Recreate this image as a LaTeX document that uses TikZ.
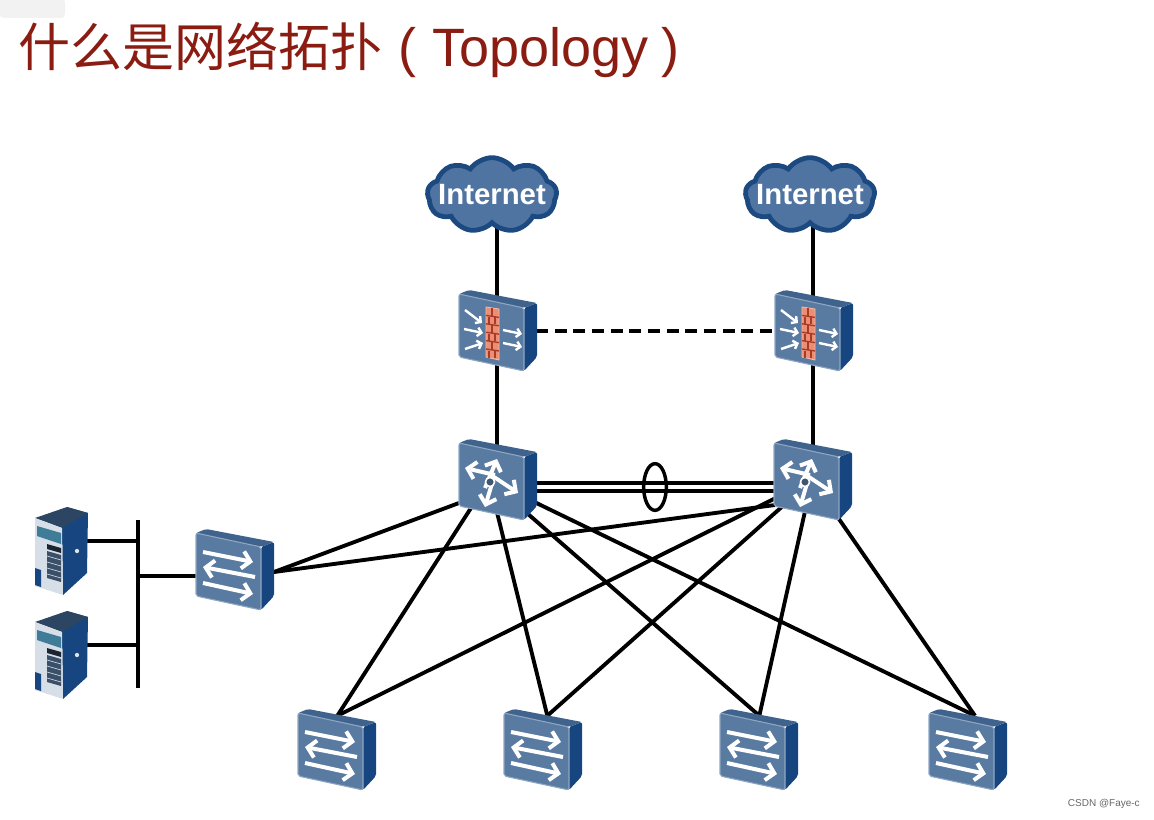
\documentclass[tikz,border=0pt]{standalone}
\usepackage{fontspec}
\setmainfont{Liberation Sans}
\newfontfamily\cjk{Noto Sans CJK SC}
\usetikzlibrary{calc,positioning,backgrounds,arrows.meta,shapes.symbols,shapes.geometric}
\definecolor{ttlred}{HTML}{8A1C12}
\definecolor{facecol}{HTML}{5A7BA1}
\definecolor{topcol}{HTML}{3F638C}
\definecolor{sidecol}{HTML}{17457F}
\definecolor{edgecol}{HTML}{8FA6C2}
\definecolor{cloudcol}{HTML}{1C4A80}
\definecolor{cloudfill}{HTML}{4F74A2}
\definecolor{wallcol}{HTML}{EC8E74}
\definecolor{brickcol}{HTML}{A83A26}
\tikzset{
  devbox/.style={minimum width=58pt, minimum height=51pt, inner sep=0pt},
  srvbox/.style={minimum width=40pt, minimum height=60pt, inner sep=0pt},
  link/.style={draw=black, line width=2.9pt},
  glyph/.style={draw=white, line width=3pt, -{Straight Barb[length=6pt,width=13pt]}},
  smallglyph/.style={draw=white, line width=1.8pt, -{Straight Barb[length=3pt,width=6.5pt]}},
  cloudbody/.style={cloud, cloud puffs=9, cloud puff arc=110, aspect=1.8, draw=cloudcol, line width=3.6pt,
    fill=cloudfill, minimum width=97pt, minimum height=56pt, inner sep=0pt},
  cloudlbl/.style={font=\bfseries\fontsize{22}{22}\selectfont, text=white, inner sep=0pt},
}
\newcommand{\DevFrame}{%
  \fill[sidecol, rounded corners=1.5pt] (27,-23) -- (40,-28) -- (40,26) -- (27,40) -- cycle;
  \fill[topcol, rounded corners=1.5pt] (-38,-37) -- (-28,-41) -- (40,-28) -- (27,-23) -- cycle;
  \draw[edgecol, line width=0.8pt, fill=facecol, rounded corners=1.5pt] (-38,-37) -- (27,-23) -- (27,40) -- (-38,26) -- cycle;
}
\newcommand{\ServerBody}{%
  \fill[sidecol] (1,-13) -- (6,-34) -- (27,-28) -- (26,32) -- (2,54) -- cycle;
  \fill[topcol!70!black] (-26,-23) -- (6,-34) -- (27,-28) -- (1,-13) -- cycle;
  \fill[facecol!25!white] (-26,-23) -- (1,-13) -- (2,54) -- (-26,45) -- cycle;
  \fill[facecol!70!teal] (-24,-15) -- (0,-8) -- (0,3) -- (-24,-5) -- cycle;
  \fill[black!70!facecol] (-14,3) -- (0,7) -- (0,12) -- (-14,8) -- cycle;
  \fill[facecol!65!black] (-14,10) -- (0,14) -- (0,41) -- (-14,37) -- cycle;
  \foreach \k in {0,1,2,3} {
    \draw[white!70!facecol, line width=0.5pt] (-14,{15+6*\k}) -- (0,{19+6*\k});
  }
  \fill[sidecol] (-26,27) -- (-20,29) -- (-20,46) -- (-26,44) -- cycle;
  \fill[white!80!facecol] (16,10) circle (1.6pt);
}
\begin{document}
\begin{tikzpicture}[x=0.75pt, y=-0.75pt]
  \useasboundingbox (0,0) rectangle (1154,820);
  \fill[black!5, rounded corners=3pt] (0,-2) rectangle (65,18);

  % title
  \node[anchor=west, inner sep=0pt, text=ttlred, font=\fontsize{39}{39}\selectfont] (title) at (18,50)
    {{\cjk 什么是网络拓扑}\hspace{12pt}{\fontsize{40.5}{40.5}\selectfont (\hspace{1pt} Topology\hspace{-2pt} )}};
  \node[anchor=east, inner sep=0pt, text=black!60, font=\fontsize{7.5}{9}\selectfont] (mark) at (1140,804) {CSDN @Faye-c};

  % internet
  \foreach \n/\x in {cl1/492,cl2/810} {
    \node[cloudbody] (\n) at (\x,195) {};
    \node[cloudlbl] (\n t) at (\x,195) {Internet};
  }

  % firewalls
  \foreach \n/\x in {fw1/497,fw2/813} {
    \begin{scope}[shift={(\x,331)}]
      \node[devbox] (\n) at (0,0) {};
      \DevFrame
      \draw[wallcol!60!white, fill=wallcol, line width=0.6pt] (-11,-24) -- (2,-22) -- (2,29) -- (-11,26) -- cycle;
      \foreach \k in {1,...,5} {
        \draw[brickcol, line width=1pt] (-11,{-24+8.4*\k}) -- (2,{-22+8.4*\k});
      }
      \foreach \k in {0,2,4} {
        \draw[brickcol, line width=0.9pt] (-5,{-23+8.4*\k}) -- (-5,{-15+8.4*\k});
        \draw[brickcol, line width=0.9pt] (-8,{-14+8.4*\k}) -- (-8,{-7+8.4*\k});
        \draw[brickcol, line width=0.9pt] (-2,{-14+8.4*\k}) -- (-2,{-7+8.4*\k});
      }
      \foreach \a/\b/\c/\d in {-32/-21/-15/-8,-33/-2/-14/2,-32/18/-14/12,6/-1/25/3,6/12/25/16} {
        \draw[smallglyph] (\a,\b) -- (\c,\d);
      }
    \end{scope}
  }

  % core
  \foreach \n/\x in {core1/497,core2/812} {
    \begin{scope}[shift={(\x,480)}]
      \node[devbox] (\n) at (0,0) {};
      \DevFrame
      \draw[glyph] (-12,8) -- (0,-21);
      \draw[glyph] (-9,-7) -- (21,13);
      \draw[glyph] (-4,0) -- (-12,27);
      \draw[glyph] (-2,-5) -- (-32,-12);
      \filldraw[fill=facecol!70!black, draw=white, line width=1.2pt] (-7,2) circle (3.4pt);
    \end{scope}
  }

  % access
  \foreach \n/\x/\y in {sw0/234/570,acc1/336/750,acc2/542/750,acc3/758/750,acc4/967/750} {
    \begin{scope}[shift={(\x,\y)}]
      \node[devbox] (\n) at (0,0) {};
      \DevFrame
      \draw[glyph] (-31,-18) -- (19,-8);
      \draw[glyph] (21,7) -- (-31,-3);
      \draw[glyph] (-31,13) -- (19,24);
    \end{scope}
  }

  % servers
  \foreach \n/\y in {srv1/541,srv2/645} {
    \begin{scope}[shift={(61,\y)}]
      \node[srvbox] (\n) at (0,0) {};
      \ServerBody
    \end{scope}
  }

  \coordinate (bus1) at (138,520);
  \coordinate (bus2) at (138,688);
  \coordinate (bustap) at (138,576);
  \coordinate (core1l) at (459,503);
  \coordinate (core2l) at (775,505);
  \coordinate (sw0r) at (274,572);
  \node[draw=black, line width=2.6pt, ellipse, minimum width=17pt, minimum height=35pt, inner sep=0pt] (lag) at (655,487) {};

  \begin{scope}[on background layer]
    \draw[link] (fw1.center) -- (fw1.center |- cl1.center);
    \draw[link] (fw2.center) -- (fw2.center |- cl2.center);
    \draw[link] (fw1.center) -- (fw1.center |- core1.center);
    \draw[link] (fw2.center) -- (fw2.center |- core2.center);
    \draw[link, dash pattern=on 9pt off 5pt] (fw1.east) -- (fw2.west);
    \draw[link] ([yshift=-2.2pt]core1.center) -- ([yshift=-2.2pt]core2.center);
    \draw[link] ([yshift=-8.2pt]core1.center) -- ([yshift=-8.2pt]core2.center);
    \draw[link] (core1l) -- (sw0r);
    \draw[link] (core2l) -- (sw0r);
    \foreach \a/\s in {acc1/1pt,acc2/4pt,acc3/1pt,acc4/6pt} {
      \draw[link] ([xshift=-6pt]core1.center) -- ([xshift=\s]\a.north);
      \draw[link] (core2.center) -- ([xshift=\s]\a.north);
    }
    \draw[link] (bus1) -- (bus2);
    \draw[link] (srv1.center) -- (srv1.center -| bus1);
    \draw[link] (srv2.center) -- (srv2.center -| bus1);
    \draw[link] (bustap) -- (bustap -| sw0.center);
  \end{scope}
\end{tikzpicture}
\end{document}
